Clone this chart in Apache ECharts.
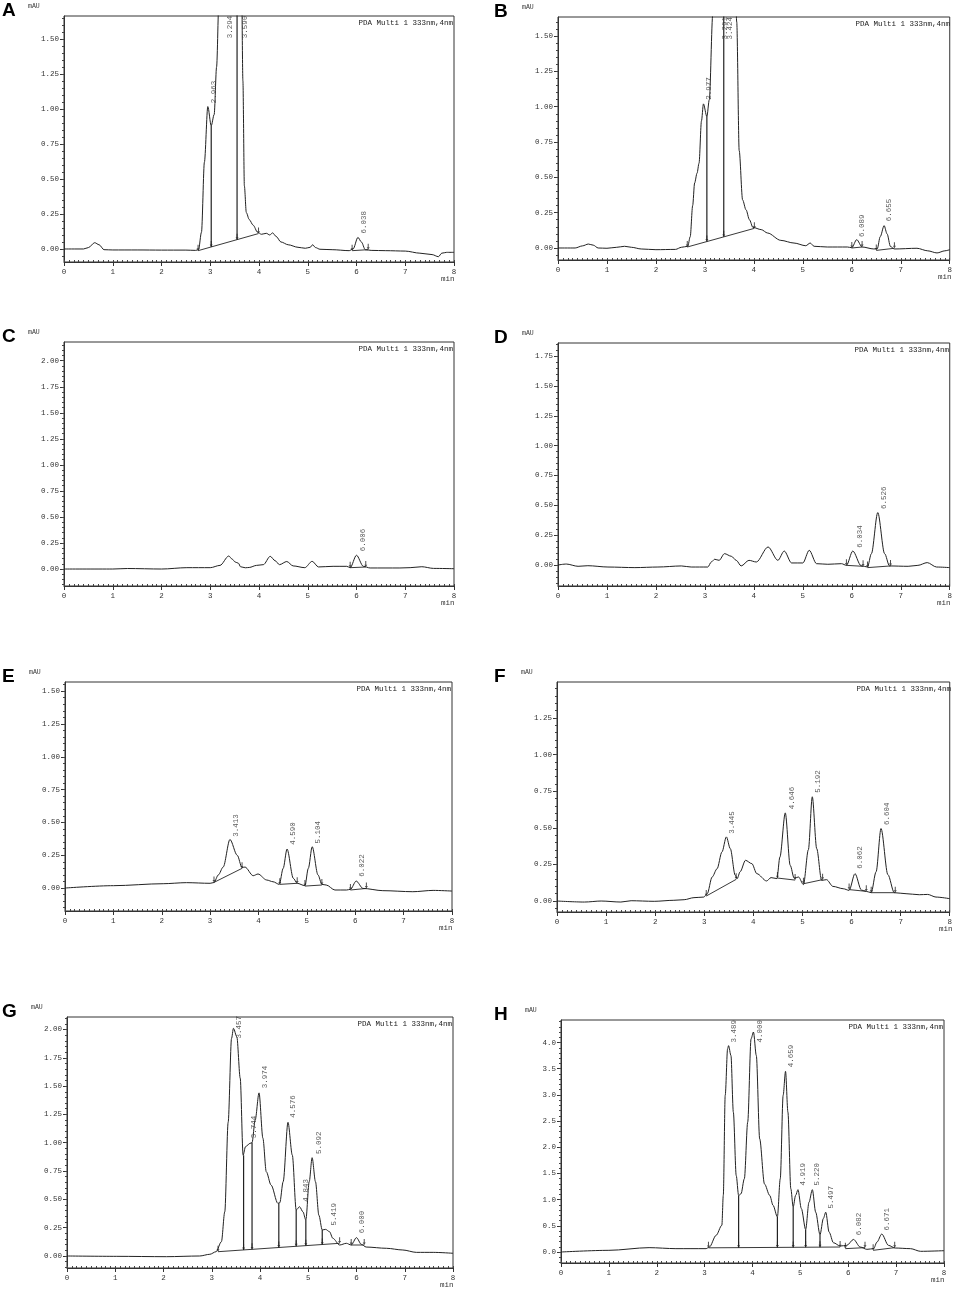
<!DOCTYPE html>
<html>
<head>
<meta charset="utf-8">
<script src="https://cdn.jsdelivr.net/npm/echarts@6.0.0/dist/echarts.min.js"></script>
<style>
  html, body { margin: 0; padding: 0; background: #fff; }
  #main { width: 955px; height: 1289px; }
</style>
</head>
<body>
<div id="main"></div>
<script>
// chromatogram traces, [time (min), signal (mAU)]
var traceA = [[0,0],[0.4,0],[0.5,0.01],[0.63,0.045],[0.72,0.03],[0.82,-0.005],[1.0,-0.007],[1.5,-0.007],[2.0,-0.008],[2.5,-0.008],[2.7,-0.01],[2.76,-0.005],[2.82,0.12],[2.88,0.62],[2.95,1.017],[3.02,0.88],[3.08,0.96],[3.13,1.3],[3.18,1.8],[3.3,3.0],[3.45,2.5],[3.55,2.2],[3.6,2.6],[3.64,2.0],[3.67,1.2],[3.7,0.45],[3.74,0.26],[3.8,0.21],[3.88,0.17],[3.97,0.12],[4.05,0.105],[4.15,0.112],[4.22,0.1],[4.28,0.115],[4.35,0.09],[4.45,0.05],[4.6,0.03],[4.8,0.012],[4.95,0.005],[5.05,0.012],[5.1,0.03],[5.16,0.01],[5.25,-0.002],[5.5,-0.005],[5.85,-0.012],[5.93,0.0],[6.03,0.083],[6.1,0.05],[6.18,-0.005],[6.3,-0.01],[6.6,-0.012],[7.0,-0.015],[7.3,-0.03],[7.55,-0.04],[7.68,-0.055],[7.75,-0.03],[7.85,-0.024],[8.0,-0.024]];
var traceB = [[0,0],[0.35,0],[0.5,0.015],[0.62,0.028],[0.72,0.02],[0.82,0],[1.0,-0.002],[1.2,0.005],[1.36,0.012],[1.5,0.005],[1.7,-0.007],[2.0,-0.012],[2.4,-0.01],[2.52,0.005],[2.65,0.012],[2.7,0.08],[2.75,0.3],[2.79,0.46],[2.84,0.53],[2.88,0.6],[2.93,0.9],[2.97,1.02],[3.04,0.93],[3.09,1.05],[3.16,1.65],[3.29,3],[3.385,2.5],[3.42,3],[3.6,2.2],[3.65,1.6],[3.7,0.69],[3.77,0.34],[3.84,0.27],[3.91,0.2],[3.98,0.146],[4.15,0.13],[4.28,0.106],[4.55,0.054],[4.82,0.035],[5.06,0.016],[5.15,0.035],[5.23,0.012],[5.5,0.007],[5.91,0.007],[6.0,0.002],[6.1,0.059],[6.21,0.007],[6.45,-0.007],[6.52,-0.005],[6.58,0.08],[6.66,0.158],[6.72,0.1],[6.79,0.01],[6.87,-0.007],[7.33,-0.002],[7.55,-0.02],[7.74,-0.035],[7.9,-0.02],[8.0,-0.012]];
var traceC = [[0,0],[1.0,0],[1.3,0.005],[2.0,0.0],[2.52,0.013],[3.0,0.013],[3.2,0.035],[3.38,0.125],[3.45,0.095],[3.51,0.068],[3.58,0.055],[3.62,0.022],[3.72,0.012],[3.8,0.015],[3.95,0.035],[4.09,0.042],[4.23,0.122],[4.33,0.08],[4.42,0.042],[4.57,0.072],[4.7,0.03],[4.94,0.013],[5.09,0.074],[5.22,0.02],[5.52,0.026],[5.8,0.026],[5.87,0.013],[6.0,0.132],[6.14,0.026],[6.28,0.01],[6.89,0.01],[7.1,0.013],[7.34,0.022],[7.58,0.006],[8.0,0.003]];
var traceD = [[0,0],[0.17,0.008],[0.41,-0.011],[0.61,-0.006],[1.02,-0.017],[1.57,-0.022],[2.04,-0.017],[2.52,-0.008],[2.72,-0.017],[3.06,-0.017],[3.13,0.025],[3.2,0.048],[3.29,0.039],[3.4,0.095],[3.54,0.073],[3.64,0.039],[3.74,-0.008],[3.9,0.039],[4.05,0.025],[4.29,0.151],[4.49,0.039],[4.62,0.117],[4.77,0.017],[5.0,0.017],[5.13,0.123],[5.28,0.011],[5.51,0.006],[5.79,0.011],[5.89,-0.003],[6.02,0.117],[6.19,-0.006],[6.32,-0.017],[6.4,0.095],[6.53,0.439],[6.67,0.095],[6.77,-0.008],[7.15,-0.011],[7.35,-0.003],[7.54,0.02],[7.73,-0.017],[8.0,-0.022]];
var traceE = [[0,0],[1.0,0.018],[2.03,0.033],[2.51,0.041],[3.0,0.036],[3.08,0.042],[3.17,0.1],[3.27,0.16],[3.41,0.37],[3.56,0.25],[3.66,0.155],[3.72,0.16],[3.89,0.094],[3.99,0.107],[4.17,0.061],[4.3,0.048],[4.43,0.028],[4.51,0.15],[4.59,0.297],[4.72,0.074],[4.8,0.036],[4.96,0.018],[5.03,0.15],[5.11,0.315],[5.23,0.1],[5.31,0.028],[5.4,0.023],[5.58,-0.015],[5.82,-0.015],[5.9,-0.01],[6.02,0.053],[6.16,-0.003],[6.57,-0.02],[7.19,-0.028],[7.61,-0.018],[8.0,-0.023]];
var traceF = [[0,0],[0.56,-0.007],[0.9,0],[1.3,-0.007],[1.51,0.002],[1.98,-0.002],[2.38,0.005],[2.59,0.009],[2.79,0.023],[2.99,0.027],[3.06,0.05],[3.16,0.164],[3.26,0.22],[3.36,0.335],[3.45,0.438],[3.53,0.358],[3.63,0.176],[3.67,0.153],[3.73,0.2],[3.84,0.278],[3.97,0.255],[4.07,0.187],[4.27,0.137],[4.36,0.16],[4.48,0.153],[4.54,0.3],[4.65,0.602],[4.75,0.244],[4.83,0.157],[4.92,0.164],[5.02,0.112],[5.12,0.35],[5.2,0.712],[5.29,0.358],[5.39,0.141],[5.49,0.146],[5.62,0.1],[5.83,0.084],[5.95,0.073],[6.07,0.187],[6.2,0.075],[6.3,0.066],[6.4,0.057],[6.5,0.2],[6.6,0.495],[6.74,0.18],[6.87,0.057],[7.11,0.05],[7.38,0.043],[7.55,0.045],[7.72,0.027],[8.0,0.016]];
var traceG = [[0,0],[1.02,-0.003],[2.06,-0.006],[2.75,0],[2.96,0.015],[3.09,0.038],[3.2,0.126],[3.27,0.39],[3.34,1.18],[3.41,1.92],[3.45,2.01],[3.52,1.935],[3.59,1.57],[3.65,0.89],[3.7,0.965],[3.79,0.994],[3.835,1.0],[3.9,1.2],[3.98,1.44],[4.06,1.04],[4.13,0.744],[4.23,0.626],[4.37,0.465],[4.41,0.47],[4.48,0.656],[4.58,1.18],[4.67,0.89],[4.75,0.406],[4.82,0.435],[4.89,0.39],[4.95,0.318],[5.02,0.656],[5.08,0.868],[5.15,0.656],[5.22,0.36],[5.29,0.23],[5.36,0.235],[5.44,0.215],[5.51,0.156],[5.65,0.097],[5.79,0.112],[5.89,0.097],[6.0,0.162],[6.1,0.103],[6.2,0.079],[6.62,0.068],[6.96,0.053],[7.24,0.032],[7.59,0.032],[8.0,0.024]];
var traceH = [[0,0],[1.0,0.032],[1.84,0.083],[2.4,0.064],[3.03,0.064],[3.1,0.095],[3.24,0.318],[3.36,0.51],[3.39,1.08],[3.43,2.99],[3.48,3.88],[3.5,3.94],[3.55,3.75],[3.6,2.67],[3.66,1.46],[3.71,1.08],[3.76,1.11],[3.83,1.4],[3.9,2.48],[3.97,4.07],[4.02,4.2],[4.08,3.75],[4.15,2.16],[4.25,1.3],[4.36,1.08],[4.43,0.89],[4.52,0.67],[4.58,1.4],[4.64,2.99],[4.69,3.45],[4.74,2.67],[4.8,1.21],[4.85,0.86],[4.9,1.08],[4.95,1.19],[5.02,0.83],[5.11,0.43],[5.18,0.95],[5.25,1.19],[5.32,0.76],[5.41,0.33],[5.48,0.64],[5.53,0.76],[5.6,0.38],[5.69,0.178],[5.83,0.114],[5.97,0.127],[6.11,0.24],[6.25,0.095],[6.39,0.051],[6.53,0.064],[6.6,0.19],[6.7,0.343],[6.84,0.127],[6.98,0.076],[7.3,0.064],[7.51,0.013],[8.0,0.025]];

// integration baselines: [[t1, y1], [t2, y2]]
var baseA = [[[2.75,-0.012],[3.99,0.11]], [[5.91,-0.012],[6.24,-0.005]]];
var baseB = [[[2.64,0.007],[4.01,0.139]], [[6.0,0.0],[6.21,0.007]], [[6.5,-0.017],[6.87,-0.002]]];
var baseC = [[[5.87,0.013],[6.19,0.019]]];
var baseD = [[[5.89,-0.003],[6.23,-0.011]], [[6.32,-0.022],[6.79,-0.008]]];
var baseE = [[[3.08,0.043],[3.66,0.15]], [[4.44,0.028],[4.8,0.036]], [[4.96,0.015],[5.31,0.023]], [[5.9,-0.015],[6.23,-0.003]]];
var baseF = [[[3.04,0.034],[3.65,0.148]], [[4.49,0.157],[4.85,0.143]], [[5.02,0.118],[5.41,0.146]], [[5.95,0.078],[6.3,0.066]], [[6.4,0.057],[6.89,0.057]]];
var baseG = [[[3.13,0.038],[5.65,0.112]], [[5.89,0.097],[6.16,0.097]]];
var baseH = [[[3.08,0.08],[5.83,0.095]], [[5.94,0.064],[6.35,0.083]], [[6.52,0.032],[6.97,0.083]]];

// drop lines: [t, bottom, top]
var dropA = [[3.02,0.015,0.88],[3.55,0.066,3]];
var dropB = [[3.04,0.046,0.93],[3.385,0.079,3]];
var dropC = [];
var dropD = [];
var dropE = [];
var dropF = [];
var dropG = [[3.66,0.054,0.89],[3.835,0.059,1.0],[4.39,0.075,0.465],[4.75,0.086,0.406],[4.95,0.091,0.318],[5.29,0.101,0.23]];
var dropH = [[3.71,0.083,1.08],[4.52,0.087,0.67],[4.85,0.088,0.86],[5.11,0.089,0.43],[5.41,0.091,0.33]];

// retention time labels: [t, y where text starts, text]
var rtA = [[3.07,1.04,'2.963'],[3.40,1.505,'3.294'],[3.71,1.505,'3.590'],[6.16,0.11,'6.038']];
var rtB = [[3.09,1.05,'2.977'],[3.41,1.476,'3.291'],[3.52,1.476,'3.424'],[6.21,0.078,'6.089'],[6.76,0.19,'6.655']];
var rtC = [[6.13,0.17,'6.006']];
var rtD = [[6.16,0.145,'6.034'],[6.65,0.47,'6.526']];
var rtE = [[3.53,0.39,'3.413'],[4.72,0.33,'4.590'],[5.23,0.34,'5.104'],[6.15,0.086,'6.022']];
var rtF = [[3.57,0.46,'3.445'],[4.78,0.627,'4.646'],[5.32,0.74,'5.192'],[6.18,0.22,'6.062'],[6.73,0.52,'6.604']];
var rtG = [[3.56,1.92,'3.457'],[3.88,1.04,'3.744'],[4.10,1.48,'3.974'],[4.68,1.22,'4.576'],[4.96,0.48,'4.843'],[5.22,0.9,'5.092'],[5.53,0.27,'5.419'],[6.12,0.2,'6.000']];
var rtH = [[3.62,4.0,'3.489'],[4.15,4.0,'4.000'],[4.8,3.53,'4.659'],[5.06,1.27,'4.919'],[5.35,1.27,'5.220'],[5.64,0.83,'5.497'],[6.23,0.32,'6.082'],[6.82,0.41,'6.671']];

// axis ticks
var xTicks = [0, 1, 2, 3, 4, 5, 6, 7, 8];
var yTicks150 = [0, 0.25, 0.5, 0.75, 1.0, 1.25, 1.5];
var yTicks125 = [0, 0.25, 0.5, 0.75, 1.0, 1.25];
var yTicks175 = [0, 0.25, 0.5, 0.75, 1.0, 1.25, 1.5, 1.75];
var yTicks200 = [0, 0.25, 0.5, 0.75, 1.0, 1.25, 1.5, 1.75, 2.0];
var yTicks400 = [0, 0.5, 1.0, 1.5, 2.0, 2.5, 3.0, 3.5, 4.0];

var panels = [
  { id: 'A', left: 64, top: 16, width: 390, height: 246, min: -0.093, max: 1.664, ticks: yTicks150, minor: 0.05, dec: 2, trace: traceA, base: baseA, drop: dropA, rt: rtA },
  { id: 'B', left: 558, top: 17, width: 393, height: 243, min: -0.085, max: 1.635, ticks: yTicks150, minor: 0.05, dec: 2, trace: traceB, base: baseB, drop: dropB, rt: rtB },
  { id: 'C', left: 64, top: 342, width: 390, height: 244, min: -0.163, max: 2.18, ticks: yTicks200, minor: 0.05, dec: 2, trace: traceC, base: baseC, drop: dropC, rt: rtC },
  { id: 'D', left: 558, top: 343, width: 392, height: 243, min: -0.176, max: 1.86, ticks: yTicks175, minor: 0.05, dec: 2, trace: traceD, base: baseD, drop: dropD, rt: rtD },
  { id: 'E', left: 65, top: 682, width: 387, height: 229, min: -0.175, max: 1.57, ticks: yTicks150, minor: 0.05, dec: 2, trace: traceE, base: baseE, drop: dropE, rt: rtE },
  { id: 'F', left: 557, top: 682, width: 395, height: 230, min: -0.075, max: 1.496, ticks: yTicks125, minor: 0.05, dec: 2, trace: traceF, base: baseF, drop: dropF, rt: rtF },
  { id: 'G', left: 67, top: 1017, width: 386, height: 251, min: -0.106, max: 2.11, ticks: yTicks200, minor: 0.05, dec: 2, trace: traceG, base: baseG, drop: dropG, rt: rtG },
  { id: 'H', left: 561, top: 1020, width: 383, height: 243, min: -0.21, max: 4.43, ticks: yTicks400, minor: 0.1, dec: 1, trace: traceH, base: baseH, drop: dropH, rt: rtH }
];

var MONO = '"Liberation Mono", "DejaVu Sans Mono", monospace';
var INK = '#222';
var arrowPath = 'path://M-1,0 L1,0 L1,6 L3,6 L0,10 L-3,6 L-1,6 Z';

function stepTicks(lo, hi, step) {
  var out = [];
  for (var k = Math.ceil(lo / step); k * step <= hi + 1e-9; k++) out.push(+(k * step).toFixed(3));
  return out;
}
var xMinor = stepTicks(0, 8, 0.1);

var grid = [], xAxis = [], yAxis = [], series = [], graphic = [];

panels.forEach(function (p, i) {
  grid.push({
    left: p.left, top: p.top, width: p.width, height: p.height,
    show: true, borderColor: '#333', borderWidth: 1, backgroundColor: 'transparent'
  });
  // main x axis: labels + outward major ticks
  xAxis.push({
    gridIndex: i, type: 'value', min: 0, max: 8, interval: 1,
    splitLine: { show: false },
    axisLine: { onZero: false, lineStyle: { color: '#333', width: 1 } },
    axisTick: { customValues: xTicks, length: 4, lineStyle: { color: '#333' } },
    axisLabel: { customValues: xTicks, fontFamily: MONO, fontSize: 7.5, color: '#333', margin: 6 }
  });
  // minor x ticks point into the plot
  xAxis.push({
    gridIndex: i, type: 'value', min: 0, max: 8, position: 'bottom',
    splitLine: { show: false },
    axisLine: { show: false, onZero: false },
    axisLabel: { show: false },
    axisTick: { show: true, inside: true, customValues: xMinor, length: 2, lineStyle: { color: '#444' } }
  });
  yAxis.push({
    gridIndex: i, type: 'value', min: p.min, max: p.max, position: 'left',
    splitLine: { show: false },
    axisLine: { show: true, onZero: false, lineStyle: { color: '#333', width: 1 } },
    axisTick: { show: true, customValues: p.ticks, length: 4, lineStyle: { color: '#333' } },
    axisLabel: {
      customValues: p.ticks, fontFamily: MONO, fontSize: 7.5, color: '#333', margin: 5,
      formatter: function (v) { return v.toFixed(p.dec); }
    }
  });
  yAxis.push({
    gridIndex: i, type: 'value', min: p.min, max: p.max, position: 'left',
    splitLine: { show: false },
    axisLine: { show: false, onZero: false },
    axisLabel: { show: false },
    axisTick: { show: true, customValues: stepTicks(p.min, p.max, p.minor), length: 2, lineStyle: { color: '#444' } }
  });

  var xi = 2 * i, yi = 2 * i;
  series.push({
    type: 'line', xAxisIndex: xi, yAxisIndex: yi, data: p.trace,
    symbol: 'none', smooth: 0.3, smoothMonotone: 'x',
    lineStyle: { color: INK, width: 1 }, z: 3, silent: true
  });

  var marks = [];
  p.base.forEach(function (seg) {
    series.push({
      type: 'line', xAxisIndex: xi, yAxisIndex: yi, data: seg,
      symbol: 'none', lineStyle: { color: INK, width: 0.9 }, z: 2, silent: true
    });
    marks.push(seg[0], seg[1]);
  });
  p.drop.forEach(function (d) {
    series.push({
      type: 'line', xAxisIndex: xi, yAxisIndex: yi, data: [[d[0], d[1]], [d[0], d[2]]],
      symbol: 'none', lineStyle: { color: INK, width: 1.2 }, z: 2, silent: true
    });
    marks.push([d[0], d[1]]);
  });
  series.push({
    type: 'scatter', xAxisIndex: xi, yAxisIndex: yi, data: marks,
    symbol: arrowPath, symbolSize: [3, 6], symbolOffset: [0, '-50%'],
    itemStyle: { color: INK }, z: 4, silent: true
  });

  series.push({
    type: 'scatter', xAxisIndex: xi, yAxisIndex: yi,
    data: p.rt.map(function (r) { return { value: [r[0], r[1]], name: r[2] }; }),
    symbolSize: 1, itemStyle: { color: 'rgba(0,0,0,0)' }, z: 5, silent: true,
    label: {
      show: true, position: 'inside', rotate: 90, align: 'left', verticalAlign: 'middle',
      formatter: '{b}', fontFamily: MONO, fontSize: 7.5, color: '#333'
    }
  });

  var right = p.left + p.width, bottom = p.top + p.height;
  var letterX = p.left < 300 ? 2 : 494;
  graphic.push({
    type: 'text', x: letterX, y: p.top - 15,
    style: { text: p.id, font: 'bold 19px "Liberation Sans", Arial, sans-serif', fill: '#000' }
  });
  graphic.push({
    type: 'text', x: p.left - 36, y: p.top - 13,
    style: { text: 'mAU', font: '6.5px ' + MONO, fill: '#333' }
  });
  graphic.push({
    type: 'text', x: right - 13, y: bottom + 13,
    style: { text: 'min', font: '7.5px ' + MONO, fill: '#333' }
  });
  graphic.push({
    type: 'text', x: right - 1, y: p.top + 3,
    style: { text: 'PDA Multi 1 333nm,4nm', font: '7.5px ' + MONO, fill: '#222', align: 'right' }
  });
});

var chart = echarts.init(document.getElementById('main'));
chart.setOption({
  animation: false,
  backgroundColor: '#fff',
  grid: grid,
  xAxis: xAxis,
  yAxis: yAxis,
  series: series,
  graphic: graphic
});
</script>
</body>
</html>
